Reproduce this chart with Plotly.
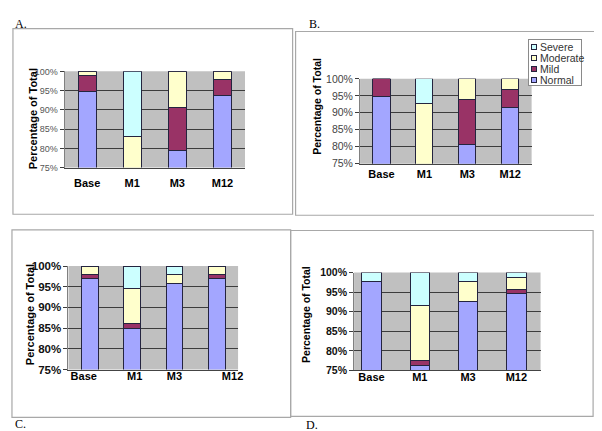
import plotly.graph_objects as go

W, H = 602, 431

categories = ["Base", "M1", "M3", "M12"]
series = ["Normal", "Mild", "Moderate", "Severe"]
y_ticks = [75, 80, 85, 90, 95, 100]
y_tick_labels = ["75%", "80%", "85%", "90%", "95%", "100%"]

# percent of total
a_normal = [94.7, 0, 79.5, 93.6]
a_mild = [4.3, 0, 11.0, 4.3]
a_moderate = [1.0, 83.0, 9.5, 2.1]
a_severe = [0, 17.0, 0, 0]

b_normal = [94.8, 0, 80.8, 91.5]
b_mild = [5.2, 0, 13.0, 5.5]
b_moderate = [0, 92.7, 6.2, 3.0]
b_severe = [0, 7.3, 0, 0]

c_normal = [96.9, 85.0, 95.7, 96.9]
c_mild = [1.0, 1.1, 0.2, 1.0]
c_moderate = [2.1, 8.5, 2.0, 2.1]
c_severe = [0, 5.4, 2.1, 0]

d_normal = [97.8, 76.2, 92.5, 94.6]
d_mild = [0, 1.3, 0, 1.1]
d_moderate = [0, 14.0, 5.3, 3.1]
d_severe = [2.2, 8.5, 2.2, 1.2]

colors = {"Normal": "#a3a6ff", "Mild": "#993366", "Moderate": "#ffffcc", "Severe": "#ccffff"}
FONT = "Arial, Liberation Sans, sans-serif"
SERIF = "Times New Roman, Liberation Serif, serif"


def fx(x):
    return x / W


def fy(y):
    return 1 - y / H


panels = [
    dict(name="A", data=[a_normal, a_mild, a_moderate, a_severe],
         plot=(57, 239, 59, 158), xrange=[-0.5, 3.5],
         tick_font=dict(size=9, color="#555555"), cat_standoff=5,
         title_pos=(25, 107.5), title_size=11,
         frame=(5, 287, 15, 206), letter=(5, 10)),
    dict(name="B", data=[b_normal, b_mild, b_moderate, b_severe],
         plot=(355, 528, 66.7, 154), xrange=[-0.5, 3.5],
         tick_font=dict(size=10.5, color="#444444"), cat_standoff=0,
         title_pos=(312, 95), title_size=10.5,
         frame=(290, 595, 18, 207), letter=(302, 10)),
    dict(name="C", data=[c_normal, c_mild, c_moderate, c_severe],
         plot=(61, 232, 259.3, 365.7), xrange=[-0.5, 3.5],
         tick_font=dict(size=11.5, color="#111111", weight="bold"), cat_standoff=-4,
         title_pos=(23, 309), title_size=11,
         tickvals=[-0.14, 1.06, 2.0, 3.37],
         frame=(4, 285, 222, 415), letter=(5, 422)),
    dict(name="D", data=[d_normal, d_mild, d_moderate, d_severe],
         plot=(349, 537, 266, 366.7), xrange=[-0.36, 3.5],
         tick_font=dict(size=10.5, color="#111111", weight="bold"), cat_standoff=-4,
         title_pos=(301, 309), title_size=10.5,
         frame=(285, 590, 222.7, 414), letter=(298, 423)),
]

fig = go.Figure()
layout = {}
annotations = []
shapes = []

for i, p in enumerate(panels):
    n = "" if i == 0 else str(i + 1)
    x0, x1, y0, y1 = p["plot"]
    for s, vals in zip(series, p["data"]):
        fig.add_trace(go.Bar(
            x=categories, y=vals, name=s, width=0.4,
            marker=dict(color=colors[s], line=dict(color="#24243f", width=1)),
            xaxis="x" + n, yaxis="y" + n, showlegend=False,
        ))
    xa = dict(domain=[fx(x0), fx(x1)], anchor="y" + n, type="category",
              range=p["xrange"], showgrid=False, ticks="", showline=True,
              linecolor="#444444", linewidth=1, ticklabelstandoff=p["cat_standoff"],
              tickfont=dict(family=FONT, size=11, color="#000000", weight="bold"),
              fixedrange=True)
    if "tickvals" in p:
        xa.update(tickmode="array", tickvals=p["tickvals"], ticktext=categories)
    ya = dict(domain=[fy(y1), fy(y0)], anchor="x" + n, range=[75, 100],
              tickmode="array", tickvals=y_ticks, ticktext=y_tick_labels,
              showgrid=True, gridcolor="#3c3c3c", gridwidth=1, zeroline=False,
              ticks="outside", ticklen=4, tickcolor="#3c3c3c", showline=True,
              linecolor="#808080", linewidth=1,
              tickfont=dict(family=FONT, **p["tick_font"]), fixedrange=True)
    layout["xaxis" + n] = xa
    layout["yaxis" + n] = ya

    # grey plot area
    shapes.append(dict(type="rect", xref="x" + n + " domain", yref="y" + n + " domain",
                       x0=0, x1=1, y0=0, y1=1, fillcolor="#c0c0c0",
                       line=dict(width=0), layer="below"))
    # panel frame
    f0, f1, g0, g1 = p["frame"]
    shapes.append(dict(type="rect", xref="paper", yref="paper",
                       x0=fx(f0), x1=fx(f1), y0=fy(g1), y1=fy(g0),
                       line=dict(color="#a8a8a8", width=1.2)))
    tx, ty = p["title_pos"]
    annotations.append(dict(text="Percentage of Total", textangle=-90,
                            xref="paper", yref="paper", x=fx(tx), y=fy(ty),
                            xanchor="center", yanchor="middle", showarrow=False,
                            font=dict(family=FONT, size=p["title_size"],
                                      color="#000000", weight="bold")))
    lx, ly = p["letter"]
    annotations.append(dict(text=p["name"] + ".", xref="paper", yref="paper",
                            x=fx(lx), y=fy(ly), xanchor="left", yanchor="middle",
                            showarrow=False,
                            font=dict(family=SERIF, size=12, color="#000000")))

# legend box of panel B, drawn by hand to match the small Excel legend
annotations.append(dict(text=" ", xref="paper", yref="paper", x=fx(551.5), y=fy(49.5),
                        xanchor="center", yanchor="middle", showarrow=False,
                        width=52, height=45, bgcolor="#ffffff",
                        bordercolor="#8a8a8a", borderwidth=1, borderpad=0))
for k, s in enumerate(reversed(series)):
    yc = 34 + k * 11.4
    annotations.append(dict(text=" ", xref="paper", yref="paper", x=fx(530.5), y=fy(yc),
                            xanchor="center", yanchor="middle", showarrow=False,
                            width=4, height=4, bgcolor=colors[s], bordercolor="#24243f",
                            borderwidth=1, borderpad=0, font=dict(size=1)))
    annotations.append(dict(text=s, xref="paper", yref="paper", x=fx(534), y=fy(yc),
                            xanchor="left", yanchor="middle", showarrow=False,
                            font=dict(family=FONT, size=10.5, color="#333333")))

fig.update_layout(
    width=W, height=H,
    margin=dict(l=0, r=0, t=0, b=0),
    paper_bgcolor="#ffffff", plot_bgcolor="rgba(0,0,0,0)",
    barmode="stack", bargap=0.6,
    showlegend=False,
    annotations=annotations, shapes=shapes,
    **layout,
)

fig.write_html("out.html", config={"displayModeBar": False})
